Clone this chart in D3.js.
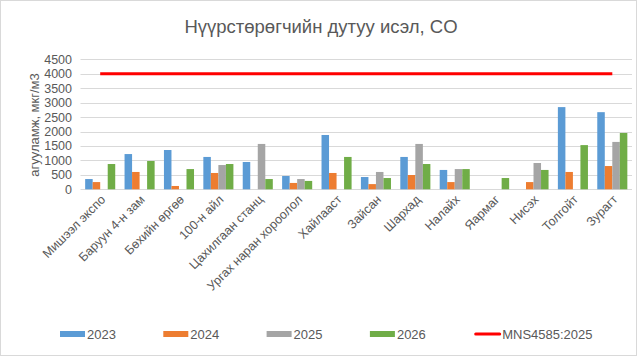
<!doctype html>
<html lang="mn">
<head>
<meta charset="utf-8">
<title>CO</title>
<style>
  body { margin: 0; background: #fff; }
  text { font-family: "Liberation Sans", Arial, sans-serif; fill: #595959; }
</style>
</head>
<body>
<div id="mychart"></div>
<script src="https://d3js.org/d3.v7.min.js"></script>
<script>
var categories = ["Мишээл экспо", "Баруун 4-н зам", "Бөхийн өргөө", "100-н айл", "Цахилгаан станц",
  "Ургах наран хороолол", "Хайлааст", "Зайсан", "Шархад", "Налайх", "Яармаг", "Нисэх", "Толгойт", "Зурагт"];
var years = ["2023", "2024", "2025", "2026"];
var v2023 = [355, 1220, 1360, 1120, 945, 460, 1880, 425, 1120, 670, null, null, 2845, 2670];
var v2024 = [250, 600, 115, 565, null, 220, 565, 180, 495, 250, null, 250, 600, 805];
var v2025 = [null, null, null, 840, 1570, 355, null, 600, 1570, 700, null, 910, null, 1640];
var v2026 = [875, 980, 700, 875, 355, 290, 1120, 390, 875, 700, 390, 670, 1530, 1950];
var standard = 4000;
var standardName = "MNS4585:2025";
var yTicks = [0, 500, 1000, 1500, 2000, 2500, 3000, 3500, 4000, 4500];
var colors = ["#5B9BD5", "#ED7D31", "#A5A5A5", "#70AD47"];

var width = 642, height = 357;
var svg = d3.select("#mychart").append("svg")
  .attr("width", width)
  .attr("height", height);

svg.append("rect")
  .attr("x", 0.5).attr("y", 0.5)
  .attr("width", 636).attr("height", 355)
  .attr("fill", "#fff").attr("stroke", "#d9d9d9");

var plotL = 80.5, plotR = 632, plotT = 59.3, plotB = 189.3;

var x = d3.scaleBand().domain(categories).range([plotL, plotR]);
var xi = d3.scaleBand().domain(years).range([0, x.bandwidth()]).paddingOuter(0.62);
var y = d3.scaleLinear().domain([0, 4500]).range([plotB, plotT]);

// gridlines
svg.append("g").selectAll("line").data(yTicks).enter().append("line")
  .attr("x1", plotL).attr("x2", plotR)
  .attr("y1", function(d) { return Math.round(y(d)) + 0.5; })
  .attr("y2", function(d) { return Math.round(y(d)) + 0.5; })
  .attr("stroke", "#d9d9d9").attr("stroke-width", 1);

// y tick labels
svg.append("g").selectAll("text").data(yTicks).enter().append("text")
  .attr("x", 72).attr("y", function(d) { return y(d) + 4.5; })
  .attr("text-anchor", "end").attr("font-size", 12.5)
  .text(function(d) { return d; });

// bars
var series = [v2023, v2024, v2025, v2026];
series.forEach(function(vals, s) {
  svg.append("g").selectAll("rect")
    .data(vals.map(function(v, i) { return { c: categories[i], v: v }; })
      .filter(function(d) { return d.v != null; }))
    .enter().append("rect")
    .attr("x", function(d) { return x(d.c) + xi(years[s]); })
    .attr("width", xi.bandwidth())
    .attr("y", function(d) { return y(d.v); })
    .attr("height", function(d) { return y(0) - y(d.v); })
    .attr("fill", colors[s]);
});

// standard line
var line = d3.line()
  .x(function(d) { return x(d) + x.bandwidth() / 2; })
  .y(function() { return y(standard); });
svg.append("path").datum(categories)
  .attr("d", line).attr("fill", "none")
  .attr("stroke", "#FF0000").attr("stroke-width", 3);

// x labels
svg.append("g").selectAll("text").data(categories).enter().append("text")
  .attr("text-anchor", "end").attr("font-size", 12.5)
  .attr("transform", function(d) {
    return "translate(" + (x(d) + x.bandwidth() / 2 + 6) + "," + (plotB + 11) + ") rotate(-45)";
  })
  .text(function(d) { return d; });

// title
svg.append("text").attr("x", 321).attr("y", 33)
  .attr("text-anchor", "middle").attr("font-size", 18.5)
  .text("Нүүрстөрөгчийн дутуу исэл, CO");

// y axis title
svg.append("text")
  .attr("transform", "translate(39,125) rotate(-90)")
  .attr("text-anchor", "middle").attr("font-size", 13)
  .text("агууламж, мкг/м3");

// legend
var legend = years.map(function(yr, i) { return { name: yr, color: colors[i], line: false }; });
legend.push({ name: standardName, color: "#FF0000", line: true });
var lg = svg.append("g").selectAll("g").data(legend).enter().append("g")
  .attr("transform", function(d, i) { return "translate(" + (60 + i * 103.3) + ",334)"; });
lg.append("rect")
  .attr("x", function(d) { return d.line ? 1 : 0; })
  .attr("y", function(d) { return d.line ? -1.5 : -3; })
  .attr("width", function(d) { return d.line ? 27 : 25; })
  .attr("height", function(d) { return d.line ? 3 : 6; })
  .attr("rx", function(d) { return d.line ? 1.5 : 0; })
  .attr("fill", function(d) { return d.color; });
lg.append("text")
  .attr("x", function(d) { return d.line ? 29 : 27; })
  .attr("y", 5)
  .attr("font-size", 13)
  .text(function(d) { return d.name; });
</script>
</body>
</html>
